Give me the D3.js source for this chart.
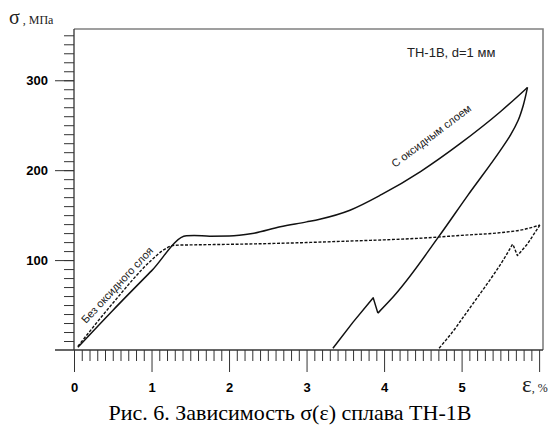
<!DOCTYPE html>
<html>
<head>
<meta charset="utf-8">
<script src="https://cdnjs.cloudflare.com/ajax/libs/d3/7.8.5/d3.min.js"></script>
<style>
  body { margin: 0; background: #fff; }
  svg { display: block; }
</style>
</head>
<body>
<svg id="chart" width="553" height="426"></svg>
<script>
// strain (%) and stress (MPa)
// solid line: "С оксидным слоем"
const oxideLoad = [
  [0.05, 3], [0.5, 44], [1.0, 88], [1.45, 127], [1.55, 127.3], [1.75, 126.6],
  [2.0, 126.7], [2.3, 129.5], [2.66, 137], [3.0, 142.5], [3.17, 145.5],
  [3.56, 155.5], [3.97, 173], [4.47, 198.5], [4.98, 229.5], [5.5, 265],
  [5.85, 292]
];
const oxideBranch = [
  [5.85, 292], [5.795, 272], [5.73, 255.5], [5.63, 239], [5.5, 222],
  [5.08, 172], [4.7, 125.5], [4.08, 55.5], [3.92, 41]
];
const oxideSpike = [[3.92, 41], [3.86, 58], [3.6, 31], [3.34, 2]];

// dashed line: "Без оксидного слоя"
const bareLoad = [
  [0.05, 4], [0.5, 52], [1.0, 100], [1.15, 111], [1.3, 116.5], [1.6, 117],
  [2.0, 117.5], [3.0, 119.5], [3.5, 121], [4.0, 122.5], [4.5, 124.5],
  [5.0, 127.5], [5.5, 130.5], [5.8, 134], [6.01, 139]
];
const bareBranch = [[6.01, 139], [5.85, 118], [5.72, 105], [5.66, 118]];
const bareTail = [
  [5.66, 118], [5.5, 95], [5.3, 70], [5.2, 58], [5.05, 40], [4.9, 22], [4.71, 2]
];

const xMajor = [0, 1, 2, 3, 4, 5, 6];
const xLabels = ["0", "1", "2", "3", "4", "5", ""];
const yMajor = [100, 200, 300];

const svg = d3.select("#chart");

const x = d3.scaleLinear().domain([0, 6.05]).range([74, 543]);
const y = d3.scaleLinear().domain([0, 357]).range([350, 29]);

const sans = "'Liberation Sans', Arial, sans-serif";
const serif = "'Liberation Serif', 'Times New Roman', serif";

// frame (top and right)
svg.append("path")
  .attr("d", `M${x(0)},${y(357)}H${x(6.05)}V${y(0)}`)
  .attr("fill", "none")
  .attr("stroke", "#808080")
  .attr("stroke-width", 1.6);

// y axis: minor ticks every 10, major ticks with labels
svg.append("g")
  .attr("transform", `translate(${x(0)},0)`)
  .call(d3.axisLeft(y).tickValues(d3.range(10, 351, 10)).tickSize(10).tickFormat("").tickSizeOuter(0))
  .call(g => g.select(".domain").remove())
  .selectAll("line").attr("stroke", "#333");

const yAx = svg.append("g")
  .attr("transform", `translate(${x(0)},0)`)
  .call(d3.axisLeft(y).tickValues(yMajor).tickSize(19).tickPadding(7).tickSizeOuter(0));
yAx.select(".domain").attr("d", `M0,${y(0)}V${y(357)}`).attr("stroke", "#333").attr("stroke-width", 1.3);
yAx.selectAll("line").attr("stroke", "#333");
yAx.selectAll("text")
  .attr("font-family", sans)
  .attr("font-size", 13).attr("font-weight", "bold").attr("fill", "#000");

// x axis: minor ticks every 0.1, major ticks at integers
svg.append("g")
  .attr("transform", `translate(0,${y(0)})`)
  .call(d3.axisBottom(x).tickValues(d3.range(1, 60).filter(i => i % 10 !== 0).map(i => i / 10)).tickSize(11).tickFormat(""))
  .call(g => g.select(".domain").remove())
  .selectAll("line").attr("stroke", "#333");

const xAx = svg.append("g")
  .attr("transform", `translate(0,${y(0)})`)
  .call(d3.axisBottom(x).tickValues(xMajor).tickSize(22).tickPadding(11)
    .tickFormat((d, i) => xLabels[i]));
xAx.select(".domain").attr("d", `M55,0H${x(6.05)}`).attr("stroke", "#333").attr("stroke-width", 1.3);
xAx.selectAll("line").attr("stroke", "#333");
xAx.selectAll("text")
  .attr("font-family", sans)
  .attr("font-size", 13).attr("font-weight", "bold").attr("fill", "#000");

// curves
const lineX = d3.line().x(d => x(d[0])).y(d => y(d[1])).curve(d3.curveMonotoneX);
const lineY = d3.line().x(d => x(d[0])).y(d => y(d[1])).curve(d3.curveMonotoneY);
const straight = d3.line().x(d => x(d[0])).y(d => y(d[1]));

function draw(d, dashed) {
  const p = svg.append("path").attr("d", d)
    .attr("fill", "none").attr("stroke", "#111")
    .attr("stroke-width", dashed ? 1.4 : 1.5)
    .attr("stroke-linejoin", "round");
  if (dashed) p.attr("stroke-dasharray", "3,1.6");
}

draw(lineX(oxideLoad), false);
draw(lineY(oxideBranch.slice().reverse()), false);
draw(straight(oxideSpike), false);

draw(lineX(bareLoad), true);
draw(straight(bareBranch), true);
draw(lineY(bareTail.slice().reverse()), true);

// labels
svg.append("text")
  .attr("x", 407).attr("y", 57)
  .attr("font-family", sans).attr("font-size", 13).attr("fill", "#222")
  .text("ТН-1В, d=1 мм");

svg.append("text")
  .attr("transform", "translate(395,168) rotate(-37)")
  .attr("font-family", sans).attr("font-size", 11).attr("fill", "#222")
  .text("С оксидным слоем");

svg.append("text")
  .attr("transform", "translate(86,324) rotate(-47)")
  .attr("font-family", sans).attr("font-size", 11).attr("fill", "#222")
  .text("Без оксидного слоя");

const yt = svg.append("text").attr("x", 9).attr("y", 24)
  .attr("font-family", serif).attr("fill", "#222");
yt.append("tspan").attr("font-size", 20).text("σ");
yt.append("tspan").attr("font-size", 12).text(" , МПа");

const xt = svg.append("text").attr("x", 522).attr("y", 392)
  .attr("font-family", serif).attr("fill", "#222");
xt.append("tspan").attr("font-size", 23).text("ε");
xt.append("tspan").attr("font-size", 12).text(", %");

svg.append("text")
  .attr("x", 290).attr("y", 420).attr("text-anchor", "middle")
  .attr("font-family", serif).attr("font-size", 22).attr("fill", "#000")
  .text("Рис. 6. Зависимость σ(ε) сплава ТН-1В");
</script>
</body>
</html>
